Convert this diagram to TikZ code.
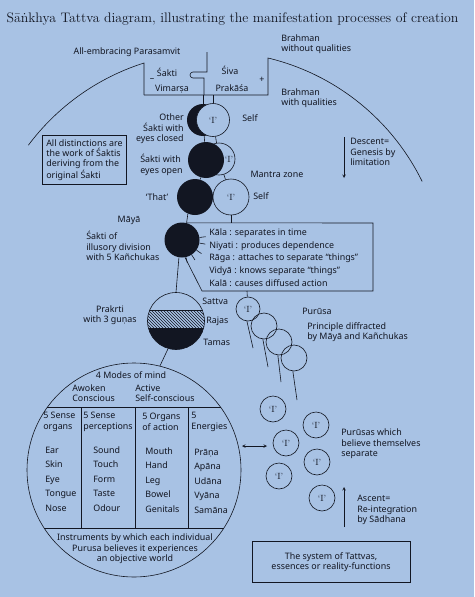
\documentclass[tikz,border=0pt]{standalone}
\usepackage{fontspec}
\newfontfamily\labelfont{Noto Sans}
\usetikzlibrary{positioning,patterns}
\definecolor{paper}{RGB}{168,194,228}
\definecolor{ink}{RGB}{18,22,34}
\newcommand{\ego}{{\rmfamily\fontsize{9}{10}\selectfont ‘I’}}

\begin{document}
\begin{tikzpicture}[x=1pt, y=-1pt, color=ink, line width=0.6pt, >=stealth,
    font=\labelfont\fontsize{8.9}{10.4}\selectfont,
    lbl/.style={inner sep=0pt, align=left},
    dark/.style={circle, fill=ink, inner sep=0pt},
    light/.style={circle, draw, fill=paper, inner sep=0pt},
    soul/.style={circle, draw, inner sep=0pt, minimum size=26pt},
    column/.style={lbl, anchor=west, font=\labelfont\fontsize{8.9}{14.5}\selectfont}]
    \fill[paper] (0,0) rectangle (474,597);
    \useasboundingbox (0,0) rectangle (474,597);

    \node[font=\rmfamily\fontsize{13.8}{16}\selectfont] (title) at (232.5,19) {Sāṅkhya Tattva diagram, illustrating the manifestation processes of creation};

    % Parasamvit
    \draw (144,95) -- (144,63) arc[start angle=-107.6, end angle=-143.2, radius=232];
    \draw (144,95) -- (268,95) -- (268,58) arc[start angle=-76.5, end angle=-26.1, radius=232];
    \draw (207,52) -- (207,72) -- (193,72) arc[start angle=-90, end angle=-270, radius=3] -- (204,78) -- (204,95);
    \node[lbl] (parasamvit) at (127,52) {All-embracing Parasamvit};
    \node[lbl, anchor=west] (nirguna) at (281,44) {Brahman\\without qualities};
    \node[lbl, anchor=west] (saguna) at (281,98) {Brahman\\with qualities};
    \node[lbl] (sakti) at (167,72) {Śakti};
    \node[lbl] (siva) at (230,70) {Śiva};
    \node[lbl] (vimarsa) at (172,89) {Vimarṣa};
    \node[lbl] (prakasa) at (232,88) {Prakāśa};
    \node[lbl] (minus) at (152,80) {–};
    \node[lbl] (plus) at (262,80) {+};
    \coordinate (sbot) at (203,95);
    \coordinate (vbot) at (213,95);

    % Sakti pairs
    \node[dark, minimum size=32pt] (closed) at (203,120) {};
    \node[light, minimum size=33pt] (self1) at (213,120) {\ego};
    \node[light, minimum size=32pt] (iopen) at (219,159) {};
    \node[dark, minimum size=36pt] (open) at (206,160) {};
    \node[lbl] (iname) at (229,159) {\ego};
    \node[dark, minimum size=36pt] (that) at (195,197) {};
    \node[light, minimum size=36pt] (self3) at (231,197) {\ego};
    \draw (sbot) -- (closed);
    \draw (vbot) -- (self1);
    \draw (closed) -- (open);
    \draw (self1) -- (iopen);
    \draw (open) -- (that);
    \draw (iopen) -- (self3);

    \node[lbl, anchor=west] (selfa) at (242,118) {Self};
    \node[lbl, anchor=east, align=right] (other) at (184,129) {Other\\Śakti with\\eyes closed};
    \node[lbl, anchor=east] (eyesopen) at (183,165) {Śakti with\\eyes open};
    \node[lbl] (thatname) at (157,197) {‘That’};
    \node[lbl] (mantra) at (277,174) {Mantra zone};
    \node[lbl, anchor=west] (selfb) at (253,196) {Self};
    \node[draw, lbl, inner sep=4pt, anchor=north west] (distinct) at (42,135) {All distinctions are\\the work of Śaktis\\deriving from the\\original Śakti};

    \coordinate (dtop) at (344,137);
    \coordinate (dbot) at (344,178);
    \draw[->] (dtop) -- (dbot);
    \node[lbl, anchor=west] (descent) at (350,152) {Descent=\\Genesis by\\limitation};

    % Maya and the Kanchukas
    \node[dark, minimum size=35pt] (maya) at (182,240) {};
    \draw (that.247) -- (maya.75) -- (373,223) -- (373,291) -- (202,291) -- (maya.-80);
    \coordinate (ktop) at (231,223);
    \draw (self3) -- (ktop);
    \foreach \a in {8,-10,-35,-57,-77}
        \draw (maya.\a) -- ++({-\a}:6);
    \node[lbl] (mayaname) at (129,220) {Māyā};
    \node[lbl, anchor=west] (mayatext) at (86,246) {Śakti of\\illusory division\\with 5 Kañchukas};
    \node[lbl, anchor=west, font=\labelfont\fontsize{8.9}{12.75}\selectfont] (kanchukas) at (209,257.5)
        {Kāla : separates in time\\Niyati : produces dependence\\Rāga : attaches to separate “things”\\Vidyā : knows separate “things”\\Kalā : causes diffused action};

    % Prakrti
    \begin{scope}
        \clip (176,321) circle (28.5);
        \fill[pattern=north west lines, pattern color=ink] (140,310) rectangle (212,328);
        \fill (140,328) rectangle (212,352);
        \draw (140,310) -- (212,310);
    \end{scope}
    \node[circle, draw, minimum size=57pt, inner sep=0pt] (prakrti) at (176,321) {};
    \draw (maya.-100) -- (prakrti.north);
    \node[lbl, align=center] (prakrtiname) at (110,315) {Prakrti\\with 3 guṇas};
    \node[lbl, anchor=west] (sattva) at (202,301) {Sattva};
    \node[lbl, anchor=west] (rajas) at (206,321) {Rajas};
    \node[lbl, anchor=west] (tamas) at (203,342) {Tamas};

    % Purusa diffracted
    \node[soul, minimum size=24pt] (p1) at (248,309) {\ego};
    \node[soul] (p2) at (264,326) {};
    \node[soul] (p3) at (279,342) {};
    \node[soul] (p4) at (294,358) {};
    \coordinate (kbot) at (247,291);
    \draw (kbot) -- (p1);
    \coordinate (h1) at (253,348);
    \coordinate (h2) at (268,367);
    \coordinate (h3) at (281,382);
    \coordinate (h4) at (297,400);
    \draw (p1.265) -- (h1);
    \draw (p2.265) -- (h2);
    \draw (p3.265) -- (h3);
    \draw (p4.265) -- (h4);
    \node[lbl, anchor=west] (purusa) at (302,311) {Purūsa};
    \node[lbl, anchor=west] (diffracted) at (307,332) {Principle diffracted\\by Māyā and Kañchukas};

    % modes of mind
    \node[circle, draw, minimum size=214pt, inner sep=0pt] (mind) at (134,470) {};
    \draw (prakrti.-106) -- (mind.76);
    \draw (mind.144) -- (mind.36);
    \draw (mind.-147) -- (mind.-33);
    \draw (81,407) -- (81,528);
    \draw (135,407) -- (135,528);
    \draw (188,407) -- (188,528);
    \node[lbl] (modes) at (131,375) {4 Modes of mind};
    \node[lbl, anchor=west] (awoken) at (72,393) {Awoken\\Conscious};
    \node[lbl, anchor=west] (active) at (135,393) {Active\\Self-conscious};
    \node[lbl, anchor=west] (hsense) at (43,422) {5 Sense\\organs};
    \node[lbl, anchor=west] (hperc) at (83,422) {5 Sense\\perceptions};
    \node[lbl, anchor=west] (haction) at (142,422) {5 Organs\\of action};
    \node[lbl, anchor=west] (henergy) at (191,422) {5\\Energies};
    \node[column] (organs) at (45,479) {Ear\\Skin\\Eye\\Tongue\\Nose};
    \node[column] (percs) at (93,479) {Sound\\Touch\\Form\\Taste\\Odour};
    \node[column] (actions) at (145,480) {Mouth\\Hand\\Leg\\Bowel\\Genitals};
    \node[column] (energies) at (194,481) {Prāṇa\\Apāna\\Udāna\\Vyāna\\Samāna};
    \node[lbl, align=center] (instruments) at (135,549) {Instruments by which each individual\\Purusa believes it experiences\\an objective world};

    % separate Purusas
    \node[soul] (s1) at (273,409) {\ego};
    \node[soul] (s2) at (316,425) {\ego};
    \node[soul] (s3) at (286,443) {\ego};
    \node[soul] (s4) at (317,462) {\ego};
    \node[soul] (s5) at (279,476) {\ego};
    \node[soul] (s6) at (322,498) {\ego};
    \coordinate (al) at (242,446);
    \coordinate (ar) at (267,446);
    \draw[<->] (al) -- (ar);
    \node[lbl, anchor=west] (separate) at (341,444) {Purūsas which\\believe themselves\\separate};
    \coordinate (abot) at (344,527);
    \coordinate (atop) at (344,487);
    \draw[->] (abot) -- (atop);
    \node[lbl, anchor=west] (ascent) at (357,510) {Ascent=\\Re-integration\\by Sādhana};

    \node[draw, lbl, align=center, minimum width=158pt, minimum height=41pt] (system) at (331,562) {The system of Tattvas,\\essences or reality-functions};
\end{tikzpicture}
\end{document}
